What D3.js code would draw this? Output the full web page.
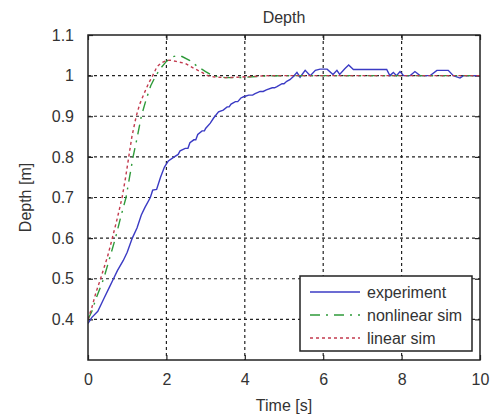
<!DOCTYPE html>
<html><head><meta charset="utf-8">
<script src="https://cdn.jsdelivr.net/npm/d3@7"></script>
<style>body{margin:0;background:#fff}svg{display:block}text{font-family:"Liberation Sans",Arial,sans-serif;fill:#333}</style>
</head><body><svg id="c" width="491" height="416"></svg>
<script>
const title = "Depth";
const xLabel = "Time [s]";
const yLabel = "Depth [m]";
const xTicks = [0, 2, 4, 6, 8, 10];
const yTicks = [0.4, 0.5, 0.6, 0.7, 0.8, 0.9, 1, 1.1];
const seriesNames = ["experiment", "nonlinear sim", "linear sim"];

const expT = [0,0.1,0.25,0.4,0.55,0.65,0.75,0.9,1.0,1.13,1.25,1.36,1.45,1.59,1.65,1.75,1.85,1.95,2.05,2.2,2.3,2.35,2.48,2.55,2.6,2.7,2.75,2.8,2.91,2.97,3.0,3.12,3.2,3.33,3.45,3.55,3.6,3.65,3.76,3.82,3.9,3.97,4.1,4.2,4.25,4.39,4.47,4.55,4.7,4.76,4.82,4.95,5.0,5.07,5.15,5.24,5.33,5.41,5.54,5.67,5.8,5.92,6.1,6.25,6.35,6.42,6.55,6.65,6.77,7.62,7.7,7.79,7.87,7.96,8.05,8.22,8.34,8.47,8.73,8.9,9.19,9.32,9.49,9.58,10];
const expV = [0.39,0.405,0.42,0.45,0.48,0.5,0.52,0.545,0.565,0.6,0.625,0.657,0.675,0.7,0.718,0.72,0.75,0.775,0.79,0.8,0.806,0.815,0.821,0.821,0.835,0.842,0.842,0.855,0.864,0.864,0.87,0.883,0.895,0.911,0.915,0.923,0.923,0.93,0.936,0.936,0.945,0.948,0.952,0.952,0.955,0.961,0.961,0.965,0.97,0.97,0.973,0.98,0.98,0.986,0.99,0.998,1.008,0.996,1.013,1.0,1.013,1.016,1.016,1.003,1.013,1.003,1.017,1.026,1.015,1.015,1.0,1.008,1.0,1.01,1.0,1.0,1.01,1.0,1.0,1.013,1.013,1.0,0.994,1.0,1.0];

const nlT = [0,0.1,0.2,0.4,0.55,0.7,0.83,0.97,1.06,1.15,1.26,1.36,1.48,1.6,1.73,1.85,2.0,2.15,2.27,2.4,2.6,2.8,3.0,3.2,3.5,3.8,4.0,4.5,5,10];
const nlV = [0.4,0.42,0.45,0.5,0.55,0.6,0.65,0.7,0.75,0.8,0.85,0.9,0.94,0.975,1.0,1.018,1.035,1.046,1.049,1.047,1.037,1.022,1.01,0.999,0.995,0.995,0.996,0.999,1.0,1.0];

const linT = [0,0.1,0.2,0.32,0.5,0.62,0.75,0.87,0.96,1.04,1.12,1.23,1.32,1.45,1.55,1.65,1.76,1.88,2.0,2.1,2.25,2.48,2.7,2.87,3.05,3.2,3.5,3.8,4.2,4.6,10];
const linV = [0.4,0.43,0.465,0.5,0.555,0.6,0.65,0.7,0.75,0.8,0.85,0.9,0.93,0.96,0.982,1.0,1.022,1.032,1.037,1.038,1.035,1.03,1.018,1.01,1.0,0.997,0.995,0.996,0.998,1.0,1.0];

const colors = ["#3b3bc4", "#2f9a3a", "#c23a4e"];
const dashes = [null, "10,6,2,6", "3,3"];

const svg = d3.select("#c");
const L = 88, R = 480, T = 35, B = 360;
const x = d3.scaleLinear().domain([0, 10]).range([L, R]);
const y = d3.scaleLinear().domain([0.3, 1.1]).range([B, T]);

// grid
const g = svg.append("g");
xTicks.slice(1, -1).forEach(t => g.append("line").attr("x1", x(t)).attr("x2", x(t)).attr("y1", T).attr("y2", B)
  .attr("stroke", "#222").attr("stroke-width", 1.2).attr("stroke-dasharray", "3,3"));
yTicks.filter(v => v < 1.05).forEach(v => g.append("line").attr("x1", L).attr("x2", R).attr("y1", y(v)).attr("y2", y(v))
  .attr("stroke", "#222").attr("stroke-width", 1.2).attr("stroke-dasharray", "3,3"));

// axes
const xa = svg.append("g").attr("transform", `translate(0,${B})`)
  .call(d3.axisBottom(x).tickValues(xTicks).tickSizeInner(-5).tickSizeOuter(0).tickPadding(14).tickFormat(d3.format("d")));
const xt = svg.append("g").attr("transform", `translate(0,${T})`)
  .call(d3.axisTop(x).tickValues(xTicks).tickSizeInner(-5).tickSizeOuter(0).tickFormat(""));
const ya = svg.append("g").attr("transform", `translate(${L},0)`)
  .call(d3.axisLeft(y).tickValues(yTicks).tickSizeInner(-5).tickSizeOuter(0).tickPadding(14).tickFormat(d => d === 1 ? "1" : d3.format(".1f")(d)));
const yr = svg.append("g").attr("transform", `translate(${R},0)`)
  .call(d3.axisRight(y).tickValues(yTicks).tickSizeInner(-5).tickSizeOuter(0).tickFormat(""));
[xa, xt, ya, yr].forEach(a => {
  a.selectAll(".domain").remove();
  a.selectAll("line").attr("stroke", "#222").attr("stroke-width", 1.2);
  a.selectAll("text").attr("font-size", 16).attr("fill", "#333").style("font-family", '"Liberation Sans",Arial,sans-serif');
});
xa.selectAll("text").attr("dy", "0.71em");

// series
const line = d3.line().x(d => x(d[0])).y(d => y(d[1]));
const data = [d3.zip(expT, expV), d3.zip(nlT, nlV), d3.zip(linT, linV)];
svg.append("clipPath").attr("id", "pc").append("rect").attr("x", L).attr("y", T).attr("width", R - L).attr("height", B - T);
data.forEach((d, i) => {
  svg.append("path").datum(d).attr("d", line).attr("fill", "none").attr("clip-path", "url(#pc)")
    .attr("stroke", colors[i]).attr("stroke-width", 1.4).attr("stroke-dasharray", dashes[i]);
});

// box
svg.append("rect").attr("x", L).attr("y", T).attr("width", R - L).attr("height", B - T)
  .attr("fill", "none").attr("stroke", "#222").attr("stroke-width", 1.5);

// title & labels
svg.append("text").attr("x", (L + R) / 2).attr("y", 23).attr("text-anchor", "middle").attr("font-size", 16).text(title);
svg.append("text").attr("x", (L + R) / 2).attr("y", 411).attr("text-anchor", "middle").attr("font-size", 16).text(xLabel);
svg.append("text").attr("transform", `translate(31,${(T + B) / 2}) rotate(-90)`).attr("text-anchor", "middle").attr("font-size", 16).text(yLabel);

// legend
const lg = svg.append("g");
lg.append("rect").attr("x", 300).attr("y", 276).attr("width", 172).attr("height", 75)
  .attr("fill", "#fff").attr("stroke", "#222").attr("stroke-width", 1.5);
seriesNames.forEach((n, i) => {
  const yy = 292 + i * 23;
  lg.append("line").attr("x1", 310).attr("x2", 360).attr("y1", yy).attr("y2", yy)
    .attr("stroke", colors[i]).attr("stroke-width", 1.4).attr("stroke-dasharray", dashes[i]);
  lg.append("text").attr("x", 367).attr("y", yy).attr("dy", "0.35em").attr("font-size", 16).text(n);
});
</script></body></html>
